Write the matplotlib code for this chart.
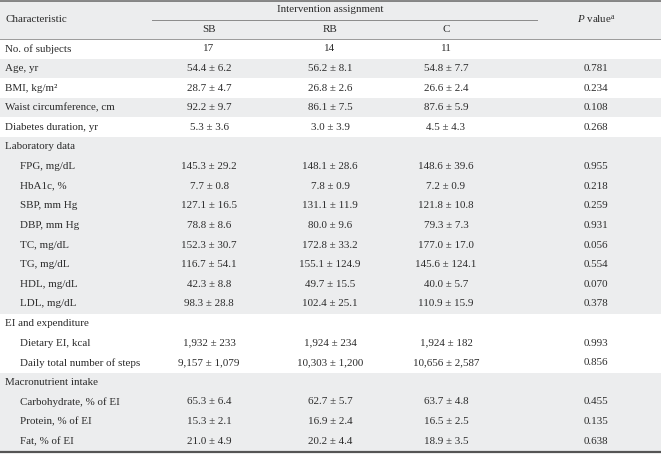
import matplotlib
matplotlib.use("Agg")
import matplotlib.pyplot as plt

plt.rcParams['font.family'] = ['Liberation Serif', 'DejaVu Serif']
plt.rcParams['mathtext.fontset'] = 'custom'
plt.rcParams['mathtext.rm'] = 'Liberation Serif'
plt.rcParams['mathtext.it'] = 'Liberation Serif:italic'

groups = ["SB", "RB", "C"]
labels = ["No. of subjects", "Age, yr", "BMI, kg/m²", "Waist circumference, cm",
          "Diabetes duration, yr", "Laboratory data", "FPG, mg/dL", "HbA1c, %",
          "SBP, mm Hg", "DBP, mm Hg", "TC, mg/dL", "TG, mg/dL", "HDL, mg/dL",
          "LDL, mg/dL", "EI and expenditure", "Dietary EI, kcal",
          "Daily total number of steps", "Macronutrient intake",
          "Carbohydrate, % of EI", "Protein, % of EI", "Fat, % of EI"]
indent = [0, 0, 0, 0, 0, 0, 1, 1, 1, 1, 1, 1, 1, 1, 0, 1, 1, 0, 1, 1, 1]
shaded = [0, 1, 0, 1, 0, 1, 1, 1, 1, 1, 1, 1, 1, 1, 0, 0, 0, 1, 1, 1, 1]
sb = ["17", "54.4 ± 6.2", "28.7 ± 4.7", "92.2 ± 9.7", "5.3 ± 3.6", "",
      "145.3 ± 29.2", "7.7 ± 0.8", "127.1 ± 16.5", "78.8 ± 8.6", "152.3 ± 30.7",
      "116.7 ± 54.1", "42.3 ± 8.8", "98.3 ± 28.8", "", "1,932 ± 233",
      "9,157 ± 1,079", "", "65.3 ± 6.4", "15.3 ± 2.1", "21.0 ± 4.9"]
rb = ["14", "56.2 ± 8.1", "26.8 ± 2.6", "86.1 ± 7.5", "3.0 ± 3.9", "",
      "148.1 ± 28.6", "7.8 ± 0.9", "131.1 ± 11.9", "80.0 ± 9.6", "172.8 ± 33.2",
      "155.1 ± 124.9", "49.7 ± 15.5", "102.4 ± 25.1", "", "1,924 ± 234",
      "10,303 ± 1,200", "", "62.7 ± 5.7", "16.9 ± 2.4", "20.2 ± 4.4"]
cc = ["11", "54.8 ± 7.7", "26.6 ± 2.4", "87.6 ± 5.9", "4.5 ± 4.3", "",
      "148.6 ± 39.6", "7.2 ± 0.9", "121.8 ± 10.8", "79.3 ± 7.3", "177.0 ± 17.0",
      "145.6 ± 124.1", "40.0 ± 5.7", "110.9 ± 15.9", "", "1,924 ± 182",
      "10,656 ± 2,587", "", "63.7 ± 4.8", "16.5 ± 2.5", "18.9 ± 3.5"]
pval = ["", "0.781", "0.234", "0.108", "0.268", "", "0.955", "0.218", "0.259",
        "0.931", "0.056", "0.554", "0.070", "0.378", "", "0.993", "0.856", "",
        "0.455", "0.135", "0.638"]

W, H = 661, 454
fig = plt.figure(figsize=(W / 100, H / 100), dpi=100)
ax = fig.add_axes([0, 0, 1, 1])
ax.set_xlim(0, W)
ax.set_ylim(H, 0)
ax.axis('off')

GRAY = '#ecedee'
TXT = '#2b2b2b'
FS = 7.9
col_x = [209, 330, 446]
p_x = 596
head_top, head_bot = 1, 39
row_h = (451 - head_bot) / len(labels)

# header band
ax.axhspan(head_top, head_bot, color=GRAY, lw=0)
for i, s in enumerate(shaded):
    top = head_bot + i * row_h
    if s:
        ax.axhspan(top, top + row_h, color=GRAY, lw=0)

# lines
ax.plot([0, W], [head_top, head_top], color='#666666', lw=1.1)
ax.plot([0, W], [head_bot, head_bot], color='#9a9a9a', lw=0.7)
ax.plot([152, 537], [19.5, 19.5], color='#8a8a8a', lw=0.7)
ax.plot([0, W], [451.5, 451.5], color='#555555', lw=1.6)

# header texts
ax.text(5, 19, "Characteristic", fontsize=FS, color=TXT, va='center', ha='left')
ax.text(330, 9.5, "Intervention assignment", fontsize=FS, color=TXT, va='center', ha='center')
for x, g in zip(col_x, groups):
    ax.text(x, 29.5, g, fontsize=FS, color=TXT, va='center', ha='center')
ax.text(p_x, 19, r"$\mathit{P}$ value$^{\mathrm{a}}$", fontsize=FS, color=TXT,
        va='center', ha='center')

for i, lab in enumerate(labels):
    yc = head_bot + i * row_h + row_h / 2
    ax.text(5 + 15 * indent[i], yc, lab, fontsize=FS, color=TXT, va='center', ha='left')
    for x, vals in zip(col_x, [sb, rb, cc]):
        if vals[i]:
            ax.text(x, yc, vals[i], fontsize=FS, color=TXT, va='center', ha='center')
    if pval[i]:
        ax.text(p_x, yc, pval[i], fontsize=FS, color=TXT, va='center', ha='center')

fig.savefig("out.png", dpi=100)
